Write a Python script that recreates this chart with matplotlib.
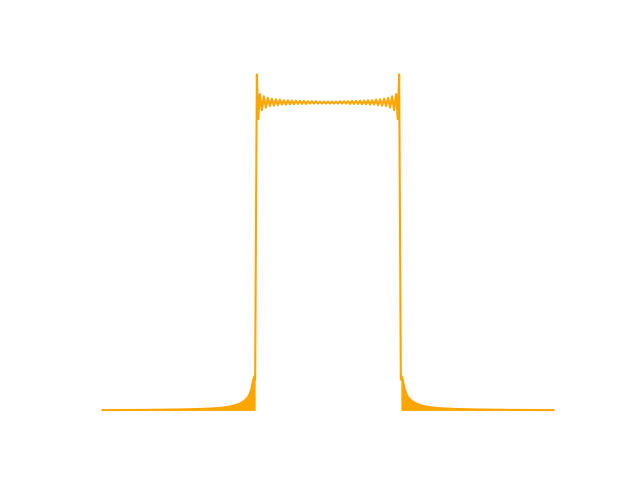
import matplotlib
matplotlib.use("Agg")
import matplotlib.pyplot as plt
import numpy as np

# magnitude response of a truncated band-pass
# x: bin index 0..450, y: magnitude (passband ~ 1)

# left stop band: envelope of the fast oscillation near the edge
tail_left_x = [0, 40, 77.5, 95, 107.5, 117, 122.5, 128, 132.5, 136, 139,
               141.5, 143.5, 145.5, 147, 148.5, 149.5, 150.5, 151.5, 152.3]
tail_left_y = [0.001, 0.0015, 0.003, 0.0045, 0.006, 0.008, 0.010, 0.013,
               0.017, 0.021, 0.026, 0.031, 0.037, 0.045, 0.055, 0.070,
               0.085, 0.10, 0.11, 0.10]

# rising edge
edge_left_x = [153.3]
edge_left_y = [0.70]

# passband ripple (peaks and troughs)
ripple_x = [154, 155.4, 157, 159, 161, 163, 165, 167, 169, 171, 173, 175,
            177, 179, 181, 183, 185, 187, 189, 191, 193, 195, 197, 199, 201,
            203, 205, 207, 209, 211, 213, 215, 217, 219, 221, 223, 225,
            227, 229, 231, 233, 235, 237, 239, 241, 243, 245, 247, 249, 251,
            253, 255, 257, 259, 261, 263, 265, 267, 269, 271, 273, 275, 277,
            279, 281, 283, 285, 287, 289, 291, 293, 294.6, 296]
ripple_y = [1.092, 0.947, 1.028, 0.976, 1.021, 0.984, 1.016, 0.989, 1.013,
            0.990, 1.011, 0.992, 1.010, 0.994, 1.008, 0.994, 1.008, 0.995,
            1.007, 0.995, 1.007, 0.996, 1.006, 0.996, 1.006, 0.996, 1.005,
            0.997, 1.005, 0.997, 1.005, 0.997, 1.004, 0.997, 1.004, 0.997,
            1.004,
            0.997, 1.004, 0.997, 1.004, 0.997, 1.005, 0.997, 1.005, 0.997,
            1.005, 0.996, 1.006, 0.996, 1.006, 0.996, 1.007, 0.995, 1.007,
            0.995, 1.008, 0.994, 1.008, 0.994, 1.010, 0.992, 1.011, 0.990,
            1.013, 0.989, 1.016, 0.984, 1.021, 0.976, 1.028, 0.947, 1.092]

# falling edge
edge_right_x = [296.7]
edge_right_y = [0.70]

# right stop band
tail_right_x = [297.7, 298.5, 299.5, 300.5, 301.5, 303, 304.5, 306.5, 308.5,
                311, 314, 317.5, 322, 327.5, 333, 342.5, 355, 372.5, 410, 450]
tail_right_y = [0.10, 0.11, 0.10, 0.085, 0.070, 0.055, 0.045, 0.037, 0.031,
                0.026, 0.021, 0.017, 0.013, 0.010, 0.008, 0.006, 0.0045,
                0.003, 0.0015, 0.001]

x = np.concatenate([tail_left_x, edge_left_x, ripple_x, edge_right_x, tail_right_x])
y = np.concatenate([tail_left_y, edge_left_y, ripple_y, edge_right_y, tail_right_y])

fig, ax = plt.subplots(figsize=(6.4, 4.8), dpi=100)
ax.plot(x, y, color='orange')
ax.fill_between(tail_left_x, 0, tail_left_y, color='orange', lw=0)
ax.fill_between(tail_right_x, 0, tail_right_y, color='orange', lw=0)
ax.set_ylim(bottom=-0.0546)
ax.axis('off')

fig.savefig('out.png')
